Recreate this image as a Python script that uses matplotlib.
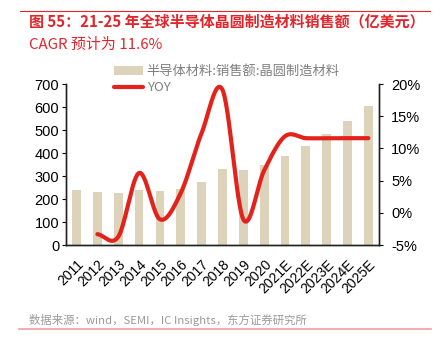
import numpy as np
import matplotlib.pyplot as plt

plt.rcParams['font.family'] = ['Noto Sans CJK SC', 'DejaVu Sans']

years = ['2011', '2012', '2013', '2014', '2015', '2016', '2017', '2018', '2019', '2020',
         '2021E', '2022E', '2023E', '2024E', '2025E']
sales = [239, 232, 225, 240, 236, 245, 275, 329, 326, 348, 387, 432, 484, 539, 603]
# YOY starts at 2012
yoy = [-3.3, -3.7, 6.2, -1.0, 3.1, 12.4, 19.1, -1.0, 6.6, 11.9, 11.6, 11.6, 11.6, 11.6]

bar_color = '#DDD3BA'
line_red = '#E3231B'
title_red = '#E2252B'


def smooth(xs, ys, n=30):
    # catmull-rom, similar to excel "smoothed line"
    xs = np.asarray(xs, float)
    ys = np.asarray(ys, float)
    px = np.concatenate([[2 * xs[0] - xs[1]], xs, [2 * xs[-1] - xs[-2]]])
    py = np.concatenate([[2 * ys[0] - ys[1]], ys, [2 * ys[-1] - ys[-2]]])
    ox, oy = [], []
    for i in range(1, len(px) - 2):
        t = np.linspace(0, 1, n, endpoint=False)
        for p, o in ((px, ox), (py, oy)):
            p0, p1, p2, p3 = p[i - 1], p[i], p[i + 1], p[i + 2]
            o.extend(0.5 * (2 * p1 + (-p0 + p2) * t
                            + (2 * p0 - 5 * p1 + 4 * p2 - p3) * t ** 2
                            + (-p0 + 3 * p1 - 3 * p2 + p3) * t ** 3))
    ox.append(xs[-1])
    oy.append(ys[-1])
    return np.array(ox), np.array(oy)


latin = ['Liberation Sans', 'DejaVu Sans']

fig = plt.figure(figsize=(4.41, 3.39), dpi=100)
ax = fig.add_axes([0.150, 0.277, 0.709, 0.475])
ax2 = ax.twinx()

x = np.arange(len(years))
b = ax.bar(x, sales, width=0.42, color=bar_color, zorder=1)
ax.set_ylim(0, 700)
ax.set_yticks(range(0, 701, 100))
ax.set_xlim(-0.5, 14.5)
ax.set_xticks(x)
ax.set_xticklabels(years, rotation=45, ha='right', rotation_mode='anchor', fontsize=10,
                   family=latin)
ax.tick_params(axis='x', length=0, pad=9)
ax.tick_params(axis='y', labelsize=10.5, length=3, direction='out', pad=2)
for lab in ax.get_yticklabels():
    lab.set_family(latin)

sx, sy = smooth(x[1:], yoy)
ln, = ax2.plot(sx, sy, color=line_red, lw=3, solid_capstyle='round')
ax2.set_ylim(-5, 20)
ax2.set_yticks(range(-5, 21, 5))
ax2.set_yticklabels([f'{v}%' for v in range(-5, 21, 5)], family=latin)
ax2.tick_params(axis='y', labelsize=10.5, length=3, direction='out', pad=6)

for a in (ax, ax2):
    a.spines['top'].set_visible(False)
    for s in ('left', 'right', 'bottom'):
        a.spines[s].set_color('#222222')
        a.spines[s].set_linewidth(1.0)

leg = ax.legend([b, ln], ['半导体材料:销售额:晶圆制造材料', 'YOY'],
                loc='upper left', bbox_to_anchor=(0.135, 1.15), frameon=False,
                fontsize=9.5, handlelength=2.2, handletextpad=0.3, labelspacing=0.25,
                borderaxespad=0)
for t in leg.get_texts():
    t.set_color('#7F7F7F')

fig.add_artist(plt.Line2D([0.045, 0.975], [1 - 11 / 339, 1 - 11 / 339], color=title_red, lw=0.8))
fig.text(0.066, 1 - 22 / 339, '图 55：21-25 年全球半导体晶圆制造材料销售额（亿美元）',
         color=title_red, fontsize=10.8, fontweight='bold', va='center')
fig.text(0.066, 1 - 45 / 339, 'CAGR 预计为 11.6%', color=title_red, fontsize=10.8, va='center')

fig.text(0.065, 1 - 320 / 339, '数据来源：wind，SEMI，IC Insights，东方证券研究所',
         color='#9A9A9A', fontsize=8.2, va='center')
fig.add_artist(plt.Line2D([0.043, 0.977], [1 - 329 / 339, 1 - 329 / 339], color='#F0A0A0', lw=1.2))

fig.savefig('out.png', dpi=100)
